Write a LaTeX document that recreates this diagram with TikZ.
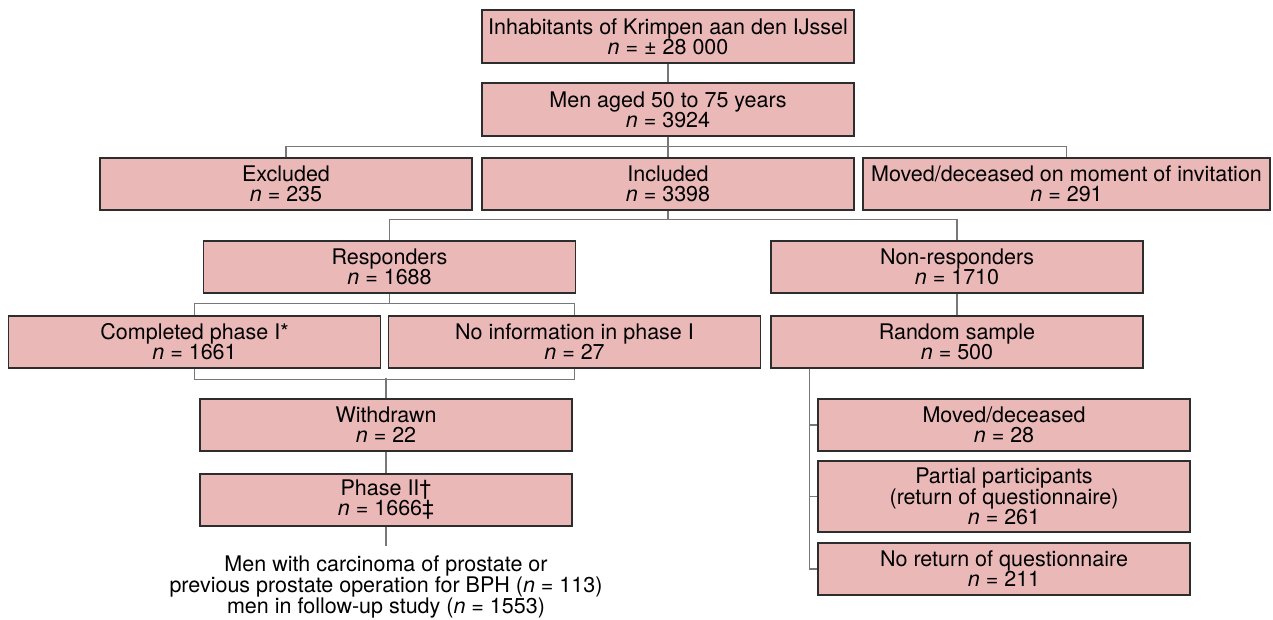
\documentclass[tikz,border=0pt]{standalone}
\usepackage{fontspec}
\setmainfont{TeX Gyre Heros}
\definecolor{boxpink}{RGB}{235,184,184}
\definecolor{boxedge}{RGB}{45,45,45}
\definecolor{linkgray}{RGB}{120,120,120}
\newcommand{\nval}[1]{\textit{n} = #1}

\begin{document}
\begin{tikzpicture}[x=1pt, y=-1pt,
  box/.style={draw=boxedge, fill=boxpink, line width=1.4pt, minimum width=372pt,
    minimum height=52pt, inner sep=0pt, align=center, font=\fontsize{21.5}{20}\selectfont},
  link/.style={draw=linkgray, line width=1.3pt}]
\useasboundingbox (0,0) rectangle (1273,620);

% top of the flow
\node[box, minimum height=53pt] (inhab) at (668,36.5) {Inhabitants of Krimpen aan den IJssel\\\nval{± 28 000}};
\node[box, minimum height=53pt] (men) at (668,109.5) {Men aged 50 to 75 years\\\nval{3924}};
\node[box] (excl) at (286,184) {Excluded\\\nval{235}};
\node[box] (incl) at (668,184) {Included\\\nval{3398}};
\node[box, minimum width=407pt] (moved) at (1066.5,184) {Moved/deceased on moment of invitation\\\nval{291}};

% responders and non-responders
\node[box] (resp) at (389.5,267) {Responders\\\nval{1688}};
\node[box] (nonresp) at (957,267) {Non-responders\\\nval{1710}};
\node[box] (compl) at (194.5,342) {Completed phase I*\\\nval{1661}};
\node[box] (noinfo) at (574.5,342) {No information in phase I\\\nval{27}};
\node[box] (random) at (957,342) {Random sample\\\nval{500}};
\node[box] (withdr) at (386,425) {Withdrawn\\\nval{22}};
\node[box] (phase2) at (386,500) {Phase II†\\\nval{1666‡}};

% random sample split
\node[box] (mdec) at (1004,425) {Moved/deceased\\\nval{28}};
\node[box, minimum height=71pt] (partial) at (1004,496.5) {Partial participants\\(return of questionnaire)\\\nval{261}};
\node[box] (noret) at (1004,569) {No return of questionnaire\\\nval{211}};

\coordinate (end2) at (386,546);
\node[align=center, inner sep=0pt, font=\fontsize{21.5}{19.5}\selectfont] (follow) at (386,587)
  {Men with carcinoma of prostate or\\previous prostate operation for BPH (\textit{n} = 113)\\men in follow-up study (\textit{n} = 1553)};

% connectors
\draw[link] (inhab) -- (men);
\draw[link] (men) -- (incl);
\draw[link] (excl.north) -- ++(0,-11) -| (moved.north);
\draw[link] (incl) -- ++(0,36);
\draw[link] (resp.north) -- ++(0,-21) -| (nonresp.north);
\draw[link] (resp) -- ++(0,37);
\draw[link] (compl.north) -- ++(0,-12) -| (noinfo.north);
\draw[link] (compl.south) -- ++(0,11) -| (noinfo.south);
\draw[link] (withdr.north) -- ++(0,-20);
\draw[link] (withdr) -- (phase2);
\draw[link] (phase2) -- (end2);
\draw[link] (nonresp) -- (random);
\coordinate (split) at ([xshift=39pt]random.south west);
\draw[link] (split) |- (noret.west);
\draw[link] (split) |- (mdec.west);
\draw[link] (split) |- (partial.west);
\end{tikzpicture}
\end{document}
